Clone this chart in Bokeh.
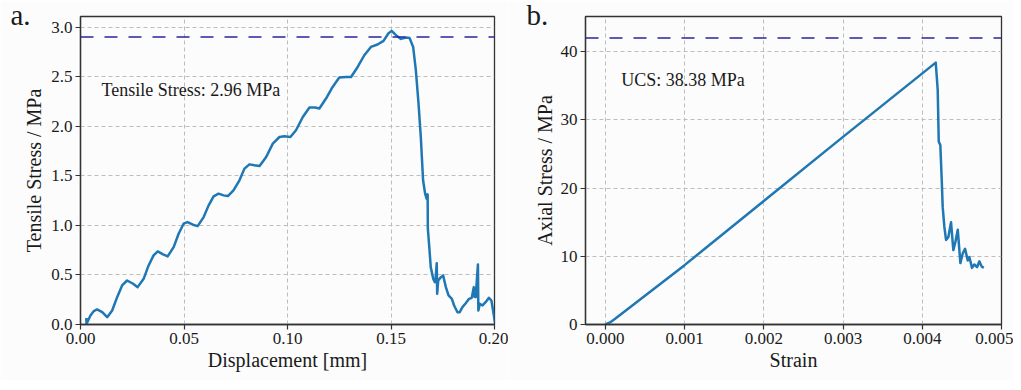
from bokeh.plotting import figure
from bokeh.layouts import row
from bokeh.models import Range1d, FixedTicker, PrintfTickFormatter, Span, Label
from bokeh.embed import file_html
from bokeh.resources import INLINE

# ---------------- data ----------------
displacement = [0.0028, 0.0029, 0.0048, 0.0064, 0.0080, 0.0105, 0.0129, 0.0153, 0.0177, 0.0201,
                0.0225, 0.0254, 0.0276, 0.0305, 0.0329, 0.0353, 0.0373, 0.0399, 0.0421, 0.0450,
                0.0474, 0.0498, 0.0517, 0.0543, 0.0566, 0.0595, 0.0619, 0.0643, 0.0667, 0.0691,
                0.0712, 0.0739, 0.0768, 0.0792, 0.0816, 0.0840, 0.0865, 0.0897, 0.0929, 0.0961,
                0.0985, 0.1014, 0.1041, 0.1074, 0.1106, 0.1133, 0.1154, 0.1186, 0.1218, 0.1250,
                0.1283, 0.1307, 0.1339, 0.1371, 0.1403, 0.1435, 0.1464, 0.1487, 0.1503, 0.1524,
                0.1548, 0.1572, 0.1590, 0.1607, 0.1620, 0.1633, 0.1644, 0.1655, 0.1665, 0.1672,
                0.1677, 0.1678, 0.1685, 0.1692, 0.1704, 0.1712, 0.1716, 0.1721, 0.1723, 0.1728,
                0.1741, 0.1752, 0.1765, 0.1778, 0.1794, 0.1805, 0.1821, 0.1832, 0.1845, 0.1861,
                0.1877, 0.1890, 0.1900, 0.1903, 0.1909, 0.1920, 0.1922, 0.1929, 0.1942, 0.1957,
                0.1973, 0.1985, 0.1993, 0.2002]
tensile_stress = [0.065, 0.005, 0.090, 0.135, 0.152, 0.125, 0.074, 0.141, 0.276, 0.394,
                  0.444, 0.411, 0.377, 0.461, 0.596, 0.697, 0.737, 0.707, 0.687, 0.781,
                  0.916, 1.017, 1.034, 1.007, 0.993, 1.084, 1.202, 1.293, 1.320, 1.303,
                  1.296, 1.354, 1.455, 1.573, 1.616, 1.606, 1.599, 1.690, 1.825, 1.892,
                  1.899, 1.892, 1.960, 2.094, 2.189, 2.189, 2.179, 2.280, 2.397, 2.492,
                  2.498, 2.498, 2.599, 2.717, 2.801, 2.825, 2.862, 2.936, 2.963, 2.919,
                  2.882, 2.895, 2.890, 2.801, 2.566, 2.229, 1.892, 1.455, 1.320, 1.270,
                  1.313, 0.967, 0.781, 0.579, 0.461, 0.428, 0.478, 0.619, 0.310, 0.444,
                  0.478, 0.495, 0.377, 0.293, 0.259, 0.192, 0.124, 0.124, 0.175, 0.215,
                  0.259, 0.269, 0.377, 0.280, 0.276, 0.606, 0.141, 0.209, 0.192, 0.225,
                  0.269, 0.242, 0.141, 0.023]
tensile_ref = 2.9
tensile_text = "Tensile Stress: 2.96 MPa"

strain = [0.0, 0.00006, 0.00012, 0.001, 0.002, 0.003, 0.00417, 0.004195, 0.004208, 0.004228,
          0.004246, 0.004258, 0.004279, 0.0043, 0.004329, 0.004363, 0.004392, 0.004418, 0.004448, 0.004481,
          0.00451, 0.00454, 0.004574, 0.004594, 0.004628, 0.004657, 0.004691, 0.00472, 0.00475, 0.004776]
axial_stress = [0.0, 0.3, 0.8, 8.7, 18.1, 27.5, 38.38, 34.4, 26.8, 26.3,
                21.1, 17.2, 14.3, 12.4, 12.8, 15.0, 10.9, 12.1, 13.9, 9.0,
                10.4, 11.1, 9.4, 9.9, 8.3, 8.8, 8.4, 9.25, 8.5, 8.3]
ucs_ref = 42.0
ucs_text = "UCS: 38.38 MPa"

a_xticks = [0.0, 0.05, 0.10, 0.15, 0.20]
a_yticks = [0.0, 0.5, 1.0, 1.5, 2.0, 2.5, 3.0]
b_xticks = [0.0, 0.001, 0.002, 0.003, 0.004, 0.005]
b_yticks = [0, 10, 20, 30, 40]

# ---------------- style ----------------
FONT = "Liberation Serif"
LINE = "#1f77b4"
REF = "#2626a0"
AXC = "#333333"
TXT = "#1a1a1a"
BG = "#fcfcfc"


def style(p, xl, yl, xt, yt, xfmt, yfmt, ystand):
    p.xaxis.ticker = FixedTicker(ticks=xt)
    p.yaxis.ticker = FixedTicker(ticks=yt)
    p.xaxis.formatter = PrintfTickFormatter(format=xfmt)
    p.yaxis.formatter = PrintfTickFormatter(format=yfmt)
    p.xaxis.axis_label = xl
    p.yaxis.axis_label = yl
    for ax in (p.xaxis, p.yaxis):
        ax.axis_label_text_font = FONT
        ax.axis_label_text_font_style = "normal"
        ax.axis_label_text_font_size = "20px"
        ax.axis_label_text_color = TXT
        ax.major_label_text_font = FONT
        ax.major_label_text_font_size = "17px"
        ax.major_label_text_color = TXT
        ax.axis_line_color = AXC
        ax.axis_line_width = 1.3
        ax.major_tick_line_color = AXC
        ax.major_tick_line_width = 1.2
        ax.major_tick_out = 5
        ax.major_tick_in = 0
        ax.minor_tick_line_color = None
        ax.major_label_standoff = 3
    p.xaxis.axis_label_standoff = 2
    p.yaxis.axis_label_standoff = ystand
    for g in (p.xgrid, p.ygrid):
        g.grid_line_color = "#bdbdbd"
        g.grid_line_dash = "4 3"
        g.grid_line_width = 1
    p.outline_line_color = AXC
    p.outline_line_width = 1.3
    p.background_fill_color = BG
    p.border_fill_color = BG


pa = figure(width=508, height=380, output_backend="svg", toolbar_location=None,
            x_range=Range1d(0, 0.2), y_range=Range1d(0, 3.108),
            min_border_left=79, min_border_right=14, min_border_top=16, min_border_bottom=56)
style(pa, "Displacement [mm]", "Tensile Stress / MPa", a_xticks, a_yticks, "%.2f", "%.1f", 3)
pa.add_layout(Span(location=tensile_ref, dimension="width", line_color=REF,
                   line_dash="13 11", line_width=1.5))
pa.line(displacement, tensile_stress, line_color=LINE, line_width=2.5, line_join="round")
pa.add_layout(Label(x=0.0101, y=2.37, text=tensile_text, text_font=FONT,
                    text_font_size="18px", text_color=TXT, text_baseline="alphabetic"))
pa.add_layout(Label(x=10, y=310, x_units="screen", y_units="screen", text="a.",
                    text_font=FONT, text_font_size="29px", text_color=TXT,
                    text_baseline="alphabetic"), "left")

pb = figure(width=505, height=380, output_backend="svg", toolbar_location=None,
            x_range=Range1d(-0.00025, 0.005), y_range=Range1d(0, 45.14),
            min_border_left=76, min_border_right=12, min_border_top=16, min_border_bottom=56)
style(pb, "Strain", "Axial Stress / MPa", b_xticks, b_yticks, "%.3f", "%d", 2)
pb.add_layout(Span(location=ucs_ref, dimension="width", line_color=REF,
                   line_dash="13 11", line_width=1.5))
pb.line(strain, axial_stress, line_color=LINE, line_width=2.5, line_join="round")
pb.add_layout(Label(x=0.0002, y=35.9, text=ucs_text, text_font=FONT,
                    text_font_size="18px", text_color=TXT, text_baseline="alphabetic"))
pb.add_layout(Label(x=18, y=310, x_units="screen", y_units="screen", text="b.",
                    text_font=FONT, text_font_size="29px", text_color=TXT,
                    text_baseline="alphabetic"), "left")

layout = row(pa, pb)
open("out.html", "w").write(file_html(layout, INLINE))
